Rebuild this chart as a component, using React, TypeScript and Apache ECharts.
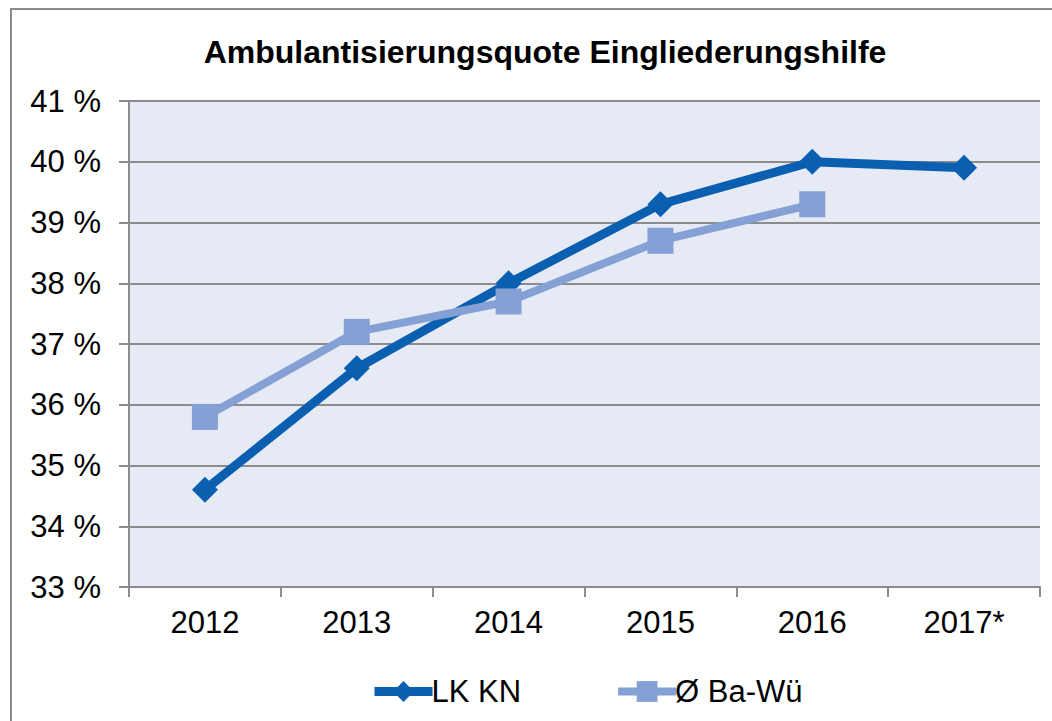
import React, { useEffect, useRef } from "react";
import * as echarts from "echarts";

const categories = ["2012", "2013", "2014", "2015", "2016", "2017*"];
const lkKn = [34.6, 36.6, 38.0, 39.3, 40.0, 39.9];
const baWue = [35.8, 37.2, 37.7, 38.7, 39.3, null];
const seriesNames = ["LK KN", "Ø Ba-Wü"];
const titleText = "Ambulantisierungsquote Eingliederungshilfe";

export default function App() {
  const ref = useRef<HTMLDivElement>(null);
  useEffect(() => {
    if (!ref.current) return;
    const chart = echarts.init(ref.current, undefined, { renderer: "svg" });
    const font = "Liberation Sans, Arial, sans-serif";
    const c1 = "#0B5FB0";
    const c2 = "#84A0D5";
    chart.setOption({
      animation: false,
      backgroundColor: "#ffffff",
      title: {
        text: titleText,
        left: 540,
        textAlign: "center",
        top: 31,
        textStyle: { fontFamily: font, fontWeight: "bold", fontSize: 32, color: "#000" },
      },
      graphic: [
        {
          type: "rect",
          shape: { x: 11, y: 9, width: 1200, height: 900 },
          style: { fill: "none", stroke: "#8c8c8c", lineWidth: 2 },
          silent: true,
        },
      ],
      legend: {
        data: [
          { name: seriesNames[0], lineStyle: { width: 9, color: c1 } },
          { name: seriesNames[1], lineStyle: { width: 8, color: c2 } },
        ],
        left: 365,
        top: 671,
        itemWidth: 58,
        itemHeight: 26,
        itemGap: 93,
        textStyle: { fontFamily: font, fontSize: 31, color: "#000", padding: [0, 0, 0, -6] },
      },
      grid: { left: 129, top: 101, right: 12, bottom: 134, backgroundColor: "#E6EAF5", show: true, borderWidth: 0 },
      xAxis: {
        type: "category",
        data: categories,
        boundaryGap: true,
        axisLine: { show: true, lineStyle: { color: "#8c8c8c", width: 2 } },
        axisTick: { show: true, interval: 0, length: 10, lineStyle: { color: "#8c8c8c", width: 2 } },
        axisLabel: { interval: 0, margin: 20, fontFamily: font, fontSize: 31, color: "#000" },
      },
      yAxis: {
        type: "value",
        min: 33,
        max: 41,
        interval: 1,
        axisLine: { show: true, lineStyle: { color: "#8c8c8c", width: 2 } },
        axisTick: { show: true, length: 10, lineStyle: { color: "#8c8c8c", width: 2 } },
        splitLine: { show: true, lineStyle: { color: "#8c8c8c", width: 2 } },
        axisLabel: { formatter: "{value} %", margin: 28, fontFamily: font, fontSize: 31, color: "#000" },
      },
      series: [
        {
          name: seriesNames[0],
          type: "line",
          data: lkKn,
          symbol: "diamond",
          symbolSize: 26,
          lineStyle: { color: c1, width: 9 },
          itemStyle: { color: c1 },
          z: 2,
        },
        {
          name: seriesNames[1],
          type: "line",
          data: baWue,
          symbol: "rect",
          symbolSize: 26,
          lineStyle: { color: c2, width: 8 },
          itemStyle: { color: c2 },
          z: 3,
        },
      ],
    });
    return () => chart.dispose();
  }, []);
  return (
    <div
      ref={ref}
      style={{ position: "fixed", left: 0, top: 0, width: 1052, height: 721 }}
    />
  );
}
